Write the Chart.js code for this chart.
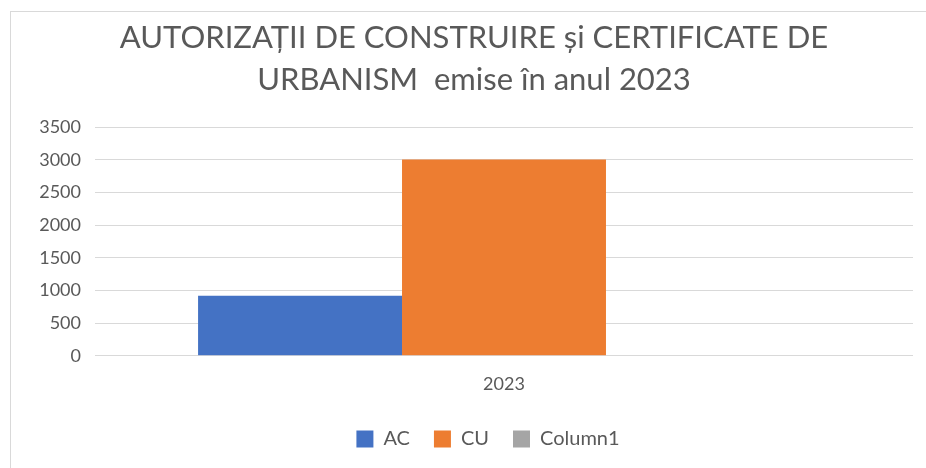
<!DOCTYPE html>
<html>
<head>
<meta charset="utf-8">
<script src="https://cdn.jsdelivr.net/npm/chart.js@4"></script>
<style>
  html, body { margin: 0; padding: 0; background: #fff; }
  #wrap { position: relative; width: 926px; height: 468px; }
  #frame { position: absolute; left: 10px; top: 11px; right: 0; bottom: 0;
           border-top: 1px solid #d9d9d9; border-left: 1px solid #d9d9d9; pointer-events: none; }
  canvas { position: absolute; left: 0; top: 0; }
</style>
</head>
<body>
<div id="wrap">
  <canvas id="c" width="926" height="468"></canvas>
  <div id="frame"></div>
</div>
<script>
const categories = ["2023"];
const seriesNames = ["AC", "CU", "Column1"];
const acValues = [918];
const cuValues = [3005];
const column1Values = [0];
const yTicks = [0, 500, 1000, 1500, 2000, 2500, 3000, 3500];
const titleLines = ["AUTORIZAȚII DE CONSTRUIRE și CERTIFICATE DE", "URBANISM  emise în anul 2023"];

const colors = ["#4472c4", "#ed7d31", "#a5a5a5"];
const textColor = "#595959";
const fontFamily = "Lato, 'Open Sans', sans-serif";

const legendShift = {
  id: "legendShift",
  afterLayout(chart) {
    if (chart.legend) { chart.legend.left += 14; chart.legend.right += 14; }
  }
};

new Chart(document.getElementById("c"), {
  type: "bar",
  data: {
    labels: categories,
    datasets: [
      { label: seriesNames[0], data: acValues, backgroundColor: colors[0] },
      { label: seriesNames[1], data: cuValues, backgroundColor: colors[1] },
      { label: seriesNames[2], data: column1Values, backgroundColor: colors[2] }
    ]
  },
  plugins: [legendShift],
  options: {
    responsive: false,
    animation: false,
    layout: { padding: { left: 35, right: 13, top: 13, bottom: 9 } },
    datasets: { bar: { barPercentage: 1.0, categoryPercentage: 0.748 } },
    plugins: {
      title: {
        display: true,
        text: titleLines,
        color: textColor,
        font: { family: fontFamily, size: 31, weight: "normal", lineHeight: 1.36 },
        padding: { top: 4, bottom: 26 }
      },
      legend: {
        position: "bottom",
        labels: {
          color: textColor,
          font: { family: fontFamily, size: 20 },
          boxWidth: 17, boxHeight: 17,
          padding: 24
        }
      },
      tooltip: { enabled: false }
    },
    scales: {
      x: {
        grid: { display: false, drawTicks: false },
        border: { display: false },
        afterFit: (s) => { s.height = s.height - 8.3; },
        ticks: { color: textColor, font: { family: fontFamily, size: 18 }, padding: 18 }
      },
      y: {
        min: 0, max: 3500,
        afterBuildTicks: (s) => { s.ticks = yTicks.map(v => ({ value: v })); },
        afterFit: (s) => { s.width = 60; },
        grid: { color: "#d9d9d9", lineWidth: 1, drawTicks: false },
        border: { display: false },
        ticks: { color: textColor, font: { family: fontFamily, size: 18 }, padding: 14,
                 callback: (v) => String(v) }
      }
    }
  }
});
</script>
</body>
</html>
